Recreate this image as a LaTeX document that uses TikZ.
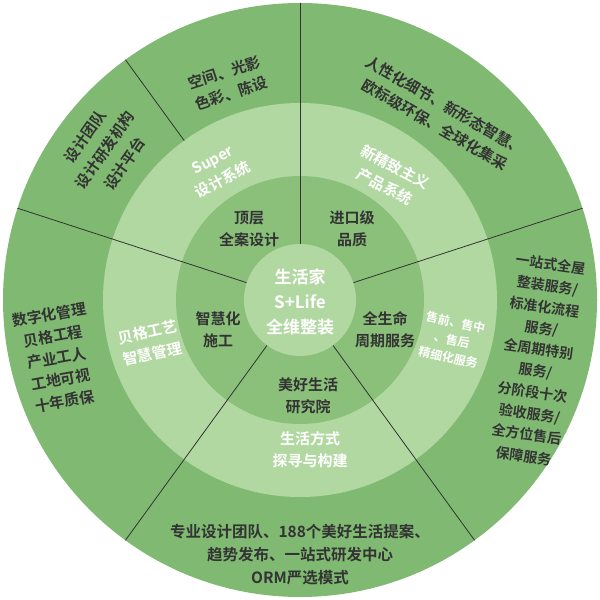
\documentclass[tikz,border=0pt]{standalone}
\usepackage{fontspec}
\setmainfont{Noto Sans CJK SC}[BoldFont={Noto Sans CJK SC Bold}]
\definecolor{outerg}{RGB}{128,186,114}
\definecolor{lightg}{RGB}{178,216,162}
\definecolor{darkg}{RGB}{138,192,122}
\begin{document}
\begin{tikzpicture}[x=1pt,y=1pt,
 dk/.style={text=black!80,font=\bfseries\fontsize{15}{22}\selectfont,align=center,inner sep=0},
 wt/.style={text=white,font=\bfseries\fontsize{15}{22}\selectfont,align=center,inner sep=0},
 sep/.style={line width=0.8pt,black!80}]
\useasboundingbox (0,0) rectangle (600,600);
\coordinate (c) at (300,300);
\fill[outerg] (c) circle (297);
\fill[lightg] (c) circle (197);
\fill[darkg] (c) circle (124);
\foreach \a in {90,162,234,306,18}
  \draw[sep] (c) ++(\a:56) -- ++(\a:241);
\draw[sep] (c) ++(126:197) -- ++(126:100);
\fill[lightg] (c) circle (56);
\node[wt,font=\bfseries\fontsize{17}{25}\selectfont] (ctr) at (300,298) {生活家\\S+Life\\全维整装};
\node[dk] (a1) at (249,371) {顶层\\全案设计};
\node[dk] (a2) at (352,371) {进口级\\品质};
\node[dk] (a3) at (218,270) {智慧化\\施工};
\node[dk] (a4) at (385,270) {全生命\\周期服务};
\node[dk] (a5) at (308,204) {美好生活\\研究院};
\node[wt,rotate=28] (b1) at (218,430) {Super\\设计系统};
\node[wt,rotate=-28] (b2) at (390,423) {新精致主义\\产品系统};
\node[wt,rotate=12] (b3) at (150,257) {贝格工艺\\智慧管理};
\node[wt,rotate=-12,font=\bfseries\fontsize{12}{18}\selectfont] (b4) at (452,260) {售前、售中\\、售后\\精细化服务};
\node[wt] (b5) at (310,150) {生活方式\\探寻与构建};
\node[dk,rotate=18] (o1) at (228,517) {空间、光影\\色彩、陈设};
\node[dk,rotate=55,font=\bfseries\fontsize{15}{24}\selectfont] (o2) at (105,450) {设计团队\\设计研发机构\\设计平台};
\node[dk,rotate=-30] (o3) at (440,485) {人性化细节、新形态智慧、\\欧标级环保、全球化集采};
\node[dk,rotate=-8,font=\bfseries\fontsize{14}{21.5}\selectfont] (o4) at (537,240) {一站式全屋\\整装服务/\\标准化流程\\服务/\\全周期特别\\服务/\\分阶段十次\\验收服务/\\全方位售后\\保障服务};
\node[dk,rotate=10] (o5) at (57,242) {数字化管理\\贝格工程\\产业工人\\工地可视\\十年质保};
\node[dk,font=\bfseries\fontsize{15.5}{23}\selectfont] (o6) at (300,45) {专业设计团队、188个美好生活提案、\\趋势发布、一站式研发中心\\ORM严选模式};
\end{tikzpicture}
\end{document}
